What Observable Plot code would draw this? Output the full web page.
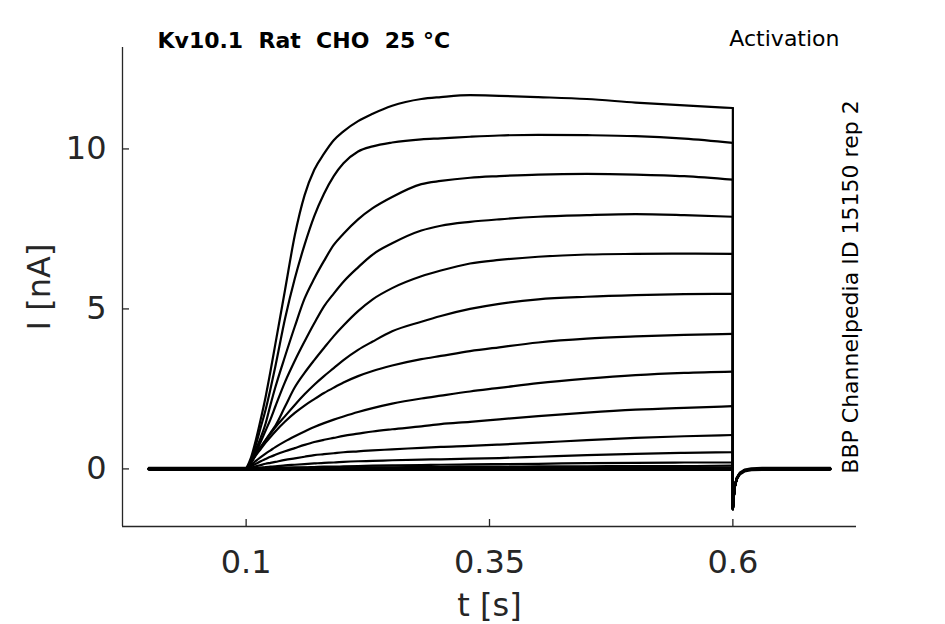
<!DOCTYPE html>
<html>
<head>
<meta charset="utf-8">
<script src="https://cdn.jsdelivr.net/npm/d3@7"></script>
<script src="https://cdn.jsdelivr.net/npm/@observablehq/plot@0.6"></script>
<style>
  html, body { margin: 0; padding: 0; background: #ffffff; }
</style>
</head>
<body>
<div id="chart"></div>
<script>
// ---- protocol / labels ----
const titleText = "Kv10.1  Rat  CHO  25 °C";
const protocolText = "Activation";
const sourceText = "BBP Channelpedia ID 15150 rep 2";
const xLabel = "t [s]";
const yLabel = "I [nA]";
const xTicks = [0.1, 0.35, 0.6];
const yTicks = [0, 5, 10];
const xDomain = [-0.027, 0.727];
const yDomain = [-1.8, 13.17];
const tStart = 0;
const tStep = 0.1;
const tEnd = 0.6;

// ---- sampled times during the voltage step (s) ----
const times = [0.1, 0.105, 0.11, 0.115, 0.12, 0.125, 0.13, 0.14, 0.15, 0.16, 0.17, 0.18, 0.19, 0.2, 0.215, 0.23, 0.25, 0.28, 0.3, 0.33, 0.36, 0.4, 0.45, 0.5, 0.55, 0.6];

// ---- current traces (nA) read at the times above ----
const trace01 = [0, 0.35, 0.9, 1.55, 2.25, 3.05, 3.9, 5.6, 7.3, 8.55, 9.35, 9.85, 10.27, 10.55, 10.87, 11.1, 11.35, 11.56, 11.62, 11.68, 11.66, 11.62, 11.56, 11.45, 11.36, 11.28];
const trace02 = [0, 0.28, 0.75, 1.3, 1.85, 2.5, 3.2, 4.7, 5.95, 7.0, 7.9, 8.6, 9.15, 9.55, 9.92, 10.08, 10.2, 10.3, 10.33, 10.38, 10.42, 10.44, 10.43, 10.4, 10.32, 10.19];
const trace03 = [0, 0.22, 0.6, 0.98, 1.42, 2.0, 2.55, 3.52, 4.45, 5.32, 5.95, 6.5, 7.0, 7.35, 7.8, 8.15, 8.5, 8.9, 9.0, 9.1, 9.15, 9.2, 9.22, 9.2, 9.15, 9.04];
const trace04 = [0, 0.2, 0.5, 0.85, 1.2, 1.55, 1.95, 2.72, 3.38, 3.98, 4.55, 5.08, 5.48, 5.85, 6.3, 6.7, 7.05, 7.45, 7.6, 7.72, 7.8, 7.88, 7.93, 7.96, 7.93, 7.88];
const trace05 = [0, 0.18, 0.45, 0.68, 0.9, 1.13, 1.35, 1.95, 2.55, 3.0, 3.4, 3.78, 4.15, 4.48, 4.93, 5.3, 5.65, 6.02, 6.2, 6.42, 6.53, 6.63, 6.7, 6.72, 6.73, 6.72];
const trace06 = [0, 0.2, 0.45, 0.68, 0.9, 1.1, 1.3, 1.65, 2.0, 2.33, 2.63, 2.9, 3.15, 3.4, 3.72, 3.98, 4.3, 4.6, 4.78, 5.0, 5.16, 5.3, 5.38, 5.43, 5.46, 5.47];
const trace07 = [0, 0.2, 0.42, 0.62, 0.82, 1.0, 1.17, 1.48, 1.75, 1.98, 2.18, 2.37, 2.54, 2.7, 2.9, 3.06, 3.23, 3.43, 3.53, 3.68, 3.8, 3.95, 4.07, 4.14, 4.19, 4.22];
const trace08 = [0, 0.12, 0.25, 0.37, 0.48, 0.58, 0.68, 0.86, 1.02, 1.17, 1.31, 1.43, 1.54, 1.64, 1.78, 1.9, 2.04, 2.2, 2.29, 2.42, 2.53, 2.68, 2.82, 2.93, 3.0, 3.04];
const trace09 = [0, 0.08, 0.16, 0.24, 0.31, 0.38, 0.44, 0.55, 0.65, 0.75, 0.84, 0.91, 0.97, 1.03, 1.1, 1.17, 1.24, 1.33, 1.4, 1.47, 1.55, 1.65, 1.76, 1.85, 1.91, 1.96];
const trace10 = [0, 0.04, 0.08, 0.12, 0.16, 0.19, 0.22, 0.28, 0.33, 0.38, 0.43, 0.46, 0.49, 0.52, 0.55, 0.58, 0.61, 0.66, 0.69, 0.72, 0.76, 0.82, 0.9, 0.97, 1.02, 1.06];
const trace11 = [0, 0.01, 0.03, 0.04, 0.06, 0.07, 0.08, 0.11, 0.13, 0.15, 0.17, 0.19, 0.2, 0.22, 0.24, 0.25, 0.27, 0.29, 0.3, 0.32, 0.34, 0.38, 0.43, 0.47, 0.5, 0.52];
const trace12 = [0, 0, 0.01, 0.01, 0.02, 0.02, 0.03, 0.04, 0.05, 0.05, 0.06, 0.07, 0.07, 0.08, 0.09, 0.1, 0.11, 0.12, 0.13, 0.14, 0.15, 0.16, 0.18, 0.19, 0.2, 0.2];
const trace13 = [0, 0, 0, 0, 0.01, 0.01, 0.01, 0.02, 0.02, 0.03, 0.03, 0.03, 0.04, 0.04, 0.04, 0.05, 0.05, 0.06, 0.06, 0.07, 0.07, 0.08, 0.08, 0.09, 0.09, 0.1];
const trace14 = [0.03, 0.03, 0.03, 0.03, 0.03, 0.03, 0.03, 0.03, 0.03, 0.03, 0.03, 0.03, 0.03, 0.03, 0.03, 0.03, 0.03, 0.03, 0.03, 0.03, 0.03, 0.04, 0.04, 0.04, 0.04, 0.04];
const trace15 = [-0.03, -0.03, -0.03, -0.03, -0.03, -0.03, -0.03, -0.03, -0.03, -0.03, -0.03, -0.03, -0.03, -0.03, -0.03, -0.03, -0.03, -0.03, -0.03, -0.03, -0.03, -0.03, -0.03, -0.03, -0.03, -0.03];
const trace16 = [0, 0, 0, 0, 0, 0, 0, 0, 0, 0, 0, 0, 0, 0, 0, 0, 0, 0, 0, 0, 0, 0, 0, 0, 0, 0];

// ---- tail current after the step (s, nA) ----
const tailTimes = [0.6, 0.601, 0.602, 0.604, 0.607, 0.612, 0.619, 0.63, 0.7];
const tailCurrents = [-1.25, -0.85, -0.55, -0.3, -0.15, -0.05, -0.01, 0, 0];

const traces = [trace01, trace02, trace03, trace04, trace05, trace06, trace07, trace08,
                trace09, trace10, trace11, trace12, trace13, trace14, trace15, trace16];

// ---- build tables ----
const pre = [], rise = [], tail = [];
traces.forEach((v, k) => {
  const hold = v[0];
  pre.push({k, t: tStart, i: hold}, {k, t: tStep, i: hold});
  times.forEach((t, j) => rise.push({k, t, i: v[j]}));
  tail.push({k, t: tEnd, i: v[v.length - 1]});
  tailTimes.forEach((t, j) => tail.push({k, t, i: tailCurrents[j] + hold}));
});

const ink = "#262626";
const lineOpts = {x: "t", y: "i", z: "k", stroke: "black", strokeWidth: 2.2, strokeLinejoin: "round"};

const chart = Plot.plot({
  width: 945,
  height: 624,
  marginLeft: 122,
  marginRight: 89,
  marginTop: 47,
  marginBottom: 98,
  style: {fontFamily: "DejaVu Sans", background: "#ffffff", overflow: "visible"},
  x: {domain: xDomain},
  y: {domain: yDomain},
  marks: [
    Plot.line(pre, lineOpts),
    Plot.line(rise, {...lineOpts, curve: "monotone-x"}),
    Plot.line(tail, lineOpts),
    Plot.ruleX([xDomain[0]], {stroke: ink, strokeWidth: 1.3}),
    Plot.ruleY([yDomain[0]], {stroke: ink, strokeWidth: 1.3}),
    Plot.axisX({ticks: xTicks, tickSize: -7, tickPadding: 30.3, fontSize: 32, label: null, color: ink, strokeWidth: 1.3, tickFormat: d => String(d)}),
    Plot.axisY({ticks: yTicks, tickSize: -7, tickPadding: 23, fontSize: 32, label: null, color: ink, strokeWidth: 1.3, tickFormat: d => String(d)}),
    Plot.text([xLabel], {text: d => d, frameAnchor: "bottom", dy: 78.8, textAnchor: "middle", lineAnchor: "middle", fontSize: 32, fill: ink}),
    Plot.text([yLabel], {text: d => d, frameAnchor: "left", dx: -83, rotate: -90, textAnchor: "middle", lineAnchor: "middle", fontSize: 32, fill: ink}),
    Plot.text([titleText], {text: d => d, frameAnchor: "top-left", textAnchor: "start", dx: 35, dy: -7, lineAnchor: "middle", fontSize: 22, fontWeight: "bold", fill: "black"}),
    Plot.text([protocolText], {text: d => d, frameAnchor: "top-right", textAnchor: "end", dx: -17, dy: -9, lineAnchor: "middle", fontSize: 22, fill: "black"}),
    Plot.text([sourceText], {text: d => d, frameAnchor: "right", rotate: -90, dx: -6, textAnchor: "middle", lineAnchor: "middle", fontSize: 22, fill: "black"})
  ]
});
document.getElementById("chart").appendChild(chart);
</script>
</body>
</html>
